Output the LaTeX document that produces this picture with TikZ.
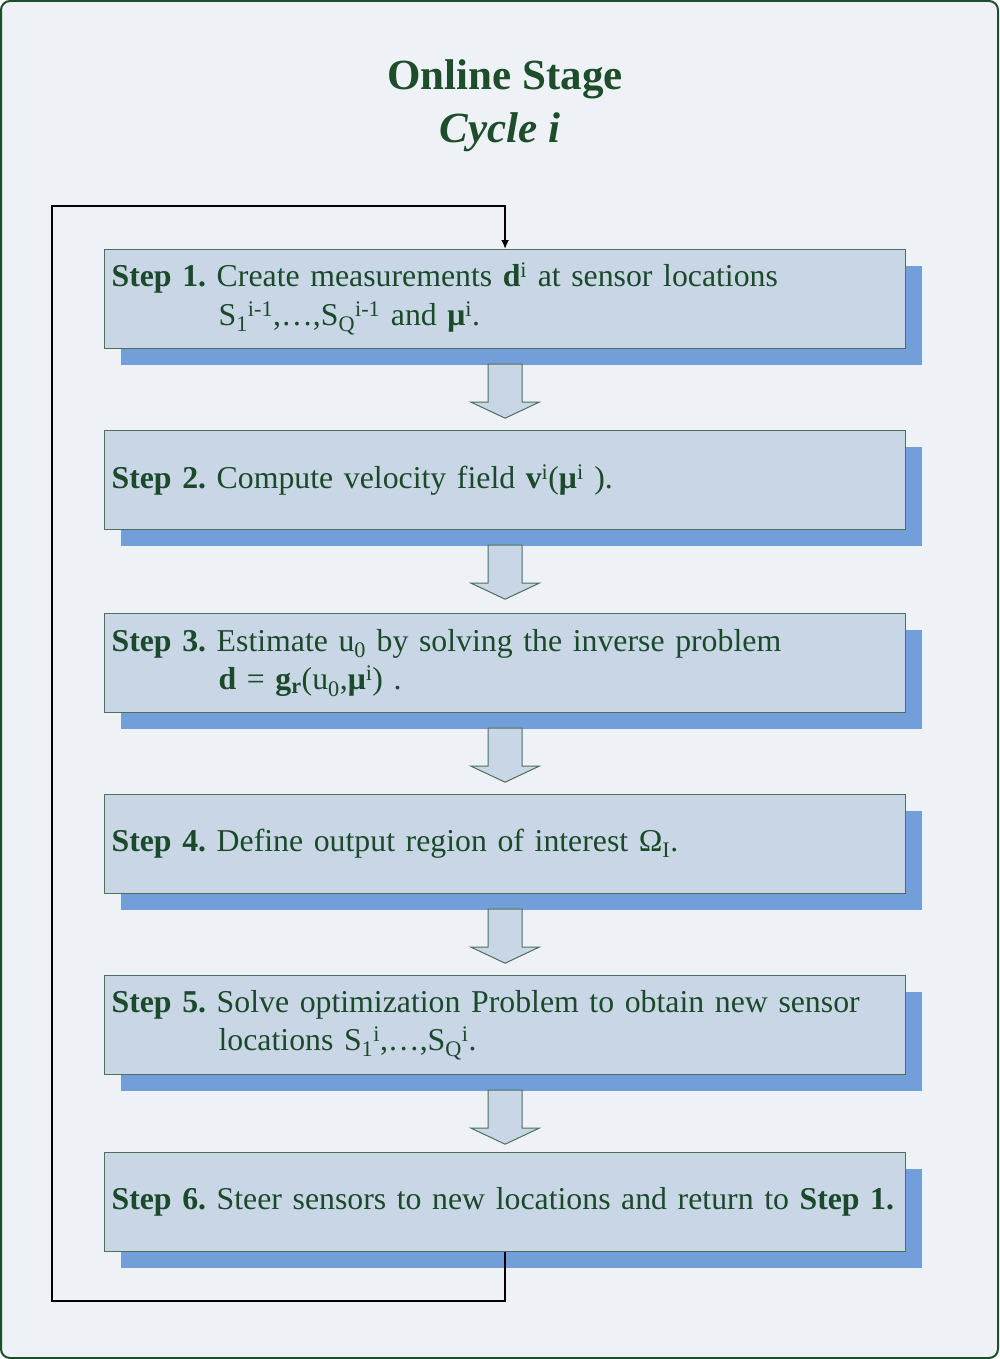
\documentclass[tikz,border=0pt]{standalone}
\usepackage{fontspec}
\setmainfont{Liberation Serif}
\usetikzlibrary{arrows.meta,shadows}

\definecolor{framegreen}{HTML}{1E4D2B}
\definecolor{textgreen}{HTML}{1A4A2A}
\definecolor{pagebg}{HTML}{EEF2F7}
\definecolor{boxfill}{HTML}{C9D6E6}
\definecolor{boxline}{HTML}{4F6F5C}
\definecolor{shadowblue}{HTML}{729FDA}

\tikzset{
  stepbox/.style={draw=boxline, line width=1.2pt, fill=boxfill, anchor=north west,
    minimum width=801pt, minimum height=99pt, text width=787pt, inner xsep=7pt,
    align=left, text=textgreen, font=\fontsize{31.8}{38.5}\selectfont\frenchspacing,
    drop shadow={shadow xshift=16pt, shadow yshift=-16pt, fill=shadowblue, opacity=1}},
  blockarrow/.style={draw=boxline, line width=1pt, fill=boxfill},
  loopline/.style={draw=black, line width=2pt},
  titletext/.style={text=framegreen, anchor=base, font=\fontsize{43}{50}\selectfont\bfseries}
}

\begin{document}
\begin{tikzpicture}[x=1pt, y=-1pt]
  \useasboundingbox (0,0) rectangle (999,1359);
  \draw[framegreen, line width=2pt, fill=pagebg, rounded corners=9pt] (1,1) rectangle (998,1358);

  % title
  \node[titletext] (title) at (505,90) {Online Stage};
  \node[titletext, font=\fontsize{43}{50}\selectfont\bfseries\itshape] (cycle) at (500,143) {Cycle i};

  % the six steps
  \node[stepbox] (s1) at (104,249) {\textbf{Step 1.} Create measurements \textbf{d}\textsuperscript{i} at sensor locations\\
    \hspace*{107pt}S\textsubscript{1}\textsuperscript{i-1},\ldots,S\textsubscript{Q}\textsuperscript{i-1} and \textbf{μ}\textsuperscript{i}.};
  \node[stepbox] (s2) at (104,430) {\textbf{Step 2.} Compute velocity field \textbf{v}\textsuperscript{i}(\textbf{μ}\textsuperscript{i} ).};
  \node[stepbox] (s3) at (104,613) {\textbf{Step 3.} Estimate u\textsubscript{0} by solving the inverse problem\\
    \hspace*{107pt}\textbf{d} = \textbf{g\textsubscript{r}}(u\textsubscript{0},\textbf{μ}\textsuperscript{i}) .};
  \node[stepbox] (s4) at (104,794) {\textbf{Step 4.} Define output region of interest Ω\textsubscript{I}.};
  \node[stepbox] (s5) at (104,975) {\textbf{Step 5.} Solve optimization Problem to obtain new sensor\\
    \hspace*{107pt}locations S\textsubscript{1}\textsuperscript{i},\ldots,S\textsubscript{Q}\textsuperscript{i}.};
  \node[stepbox] (s6) at (104,1152) {\mbox{\textbf{Step 6.} Steer sensors to new locations and return to \textbf{Step 1.}}};

  % block arrows between the steps
  \foreach \i in {1,...,5}{
    \draw[blockarrow] ([shift={(-17,15)}]s\i.south) -- ++(0,38) -- ++(-17,0)
      -- ++(34,16) -- ++(34,-16) -- ++(-17,0) -- ++(0,-38) -- cycle;
  }

  % return loop
  \coordinate (lb) at (52,1301);
  \coordinate (lt) at (52,206);
  \draw[loopline, -{Latex[length=9pt,width=8pt]}] (s6.south) |- (lb) -- (lt) -| (s1.north);
\end{tikzpicture}
\end{document}
